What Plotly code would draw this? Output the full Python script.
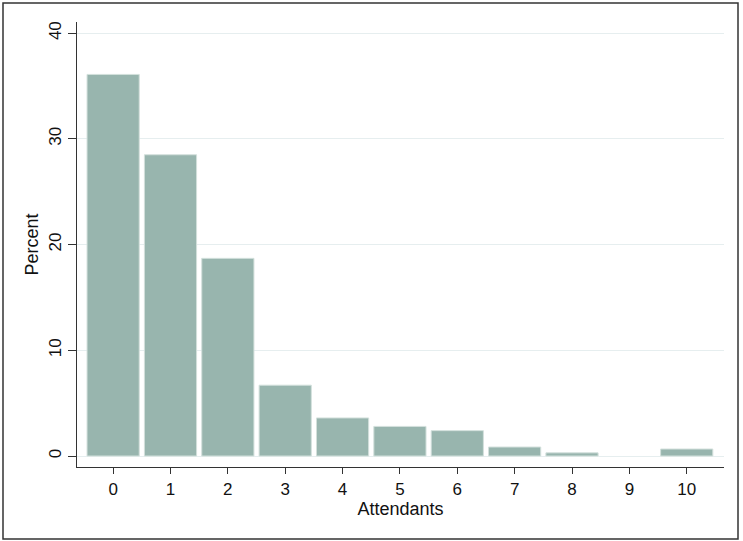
import plotly.graph_objects as go

# histogram of attendants (percent per bin)
attendants = [0, 1, 2, 3, 4, 5, 6, 7, 8, 9, 10]
percent = [36.1, 28.5, 18.7, 6.7, 3.6, 2.8, 2.4, 0.85, 0.3, 0.0, 0.66]
y_ticks = [0, 10, 20, 30, 40]

W, H = 743, 541
ml, mr, mt, mb = 77, 19, 22, 74
pw = W - ml - mr
ph = H - mt - mb

# no outline on empty bins, otherwise a stray line shows up
outline = [1 if p > 0 else 0 for p in percent]

fig = go.Figure()
fig.add_trace(go.Bar(
    x=attendants,
    y=percent,
    width=0.91,
    marker=dict(color="#98b5ae", line=dict(color="#d3e0dc", width=outline)),
    hoverinfo="x+y",
))

# outer frame around whole graph (Stata style)
fig.add_shape(
    type="rect", xref="paper", yref="paper",
    x0=(3 - ml) / pw, x1=(738 - ml) / pw,
    y0=-(539 - (H - mb)) / ph, y1=1 + (mt - 3) / ph,
    line=dict(color="#333333", width=1.5),
    layer="above",
)

font = "Liberation Sans, Arial, Helvetica, sans-serif"
fig.update_layout(
    width=W, height=H,
    margin=dict(l=ml, r=mr, t=mt, b=mb, pad=0),
    paper_bgcolor="white",
    plot_bgcolor="white",
    font=dict(family=font, size=17, color="#111111"),
    showlegend=False,
    xaxis=dict(
        range=[-0.63, 10.65],
        tickmode="array", tickvals=attendants,
        ticks="outside", ticklen=6, tickwidth=1.2, tickcolor="#333333",
        showline=True, linecolor="#333333", linewidth=1.3,
        showgrid=False, zeroline=False,
        tickfont=dict(size=17),
        title=dict(text="Attendants", font=dict(size=18), standoff=2),
        automargin=False,
    ),
    yaxis=dict(
        range=[-1.04, 41.06],
        tickmode="array", tickvals=y_ticks,
        tickangle=-90,
        ticks="outside", ticklen=8, tickwidth=1.2, tickcolor="#333333",
        showline=True, linecolor="#333333", linewidth=1.3,
        showgrid=True, gridcolor="#e6eeef", gridwidth=1.3,
        zeroline=False,
        tickfont=dict(size=17),
        title=dict(text="Percent", font=dict(size=18), standoff=2),
        automargin=False,
    ),
)

fig.write_html("out.html", config={"displayModeBar": False},
               post_script="document.body.style.margin='0';")
